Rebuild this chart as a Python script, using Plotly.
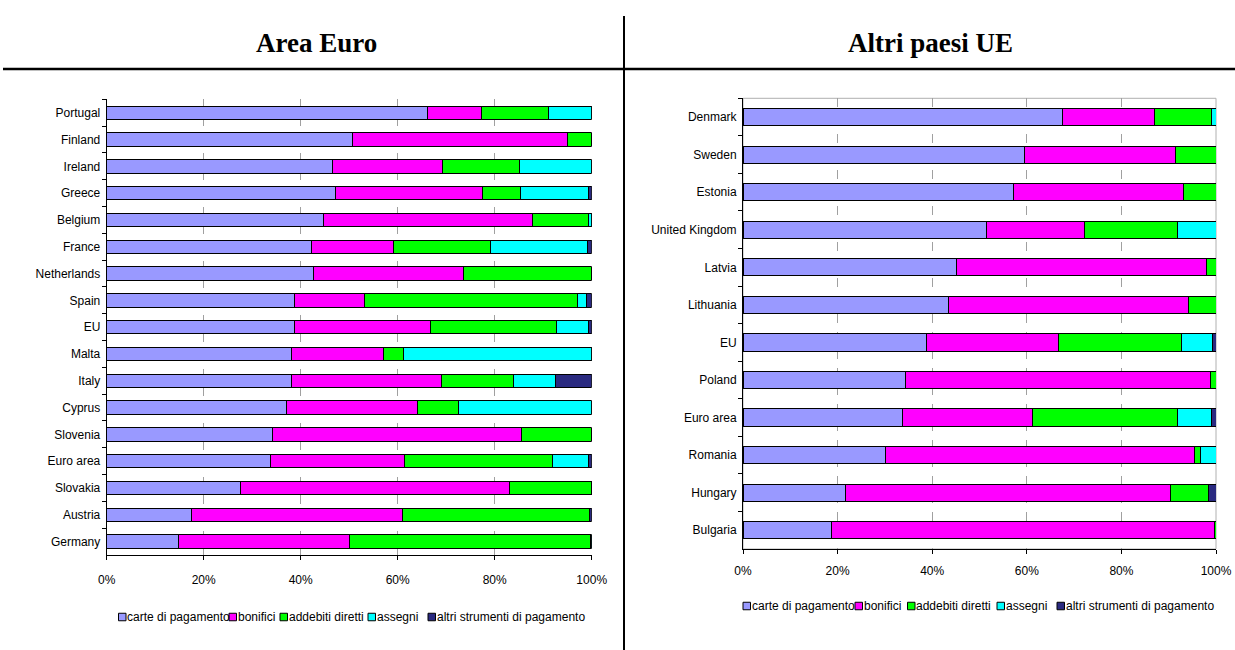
import plotly.graph_objects as go

W, H = 1235, 650

series_names = ["carte di pagamento", "bonifici", "addebiti diretti", "assegni", "altri strumenti di pagamento"]
series_colors = ["#9999FF", "#FF00FF", "#00FF00", "#00FFFF", "#2A2A80"]

# ---- Area Euro (left) ----
left_countries = ["Portugal", "Finland", "Ireland", "Greece", "Belgium", "France", "Netherlands", "Spain", "EU",
                  "Malta", "Italy", "Cyprus", "Slovenia", "Euro area", "Slovakia", "Austria", "Germany"]
left_carte = [66.1, 50.6, 46.6, 47.1, 44.8, 42.2, 42.6, 38.7, 38.8, 38.2, 38.0, 37.0, 34.2, 33.7, 27.5, 17.5, 14.9]
left_bonifici = [11.1, 44.5, 22.6, 30.4, 43.0, 17.0, 31.0, 14.5, 27.9, 18.8, 31.1, 27.1, 51.3, 27.7, 55.5, 43.5, 35.2]
left_addebiti = [13.8, 4.9, 16.0, 7.9, 11.6, 19.9, 26.4, 43.9, 26.0, 4.1, 14.8, 8.4, 14.5, 30.6, 17.0, 38.5, 49.6]
left_assegni = [9.0, 0, 14.8, 14.0, 0.6, 20.1, 0, 1.9, 6.6, 38.9, 8.7, 27.5, 0, 7.3, 0, 0, 0.3]
left_altri = [0, 0, 0, 0.6, 0, 0.8, 0, 1.0, 0.7, 0, 7.4, 0, 0, 0.7, 0, 0.5, 0]

# ---- Altri paesi UE (right) ----
right_countries = ["Denmark", "Sweden", "Estonia", "United Kingdom", "Latvia", "Lithuania", "EU", "Poland",
                   "Euro area", "Romania", "Hungary", "Bulgaria"]
right_carte = [67.5, 59.6, 57.2, 51.5, 45.2, 43.5, 38.8, 34.4, 33.8, 30.1, 21.7, 18.8]
right_bonifici = [19.6, 31.8, 35.9, 20.6, 52.7, 50.6, 27.9, 64.4, 27.4, 65.4, 68.6, 80.8]
right_addebiti = [12.0, 8.6, 6.9, 19.7, 2.1, 5.9, 25.9, 1.2, 30.7, 1.2, 8.2, 0.4]
right_assegni = [0.9, 0, 0, 8.2, 0, 0, 6.7, 0, 7.2, 3.3, 0, 0]
right_altri = [0, 0, 0, 0, 0, 0, 0.7, 0, 0.9, 0, 1.5, 0]

x_tickvals = [0, 20, 40, 60, 80, 100]
x_ticktext = ["0%", "20%", "40%", "60%", "80%", "100%"]

panel_titles = ["Area Euro", "Altri paesi UE"]

left_values = [left_carte, left_bonifici, left_addebiti, left_assegni, left_altri]
right_values = [right_carte, right_bonifici, right_addebiti, right_assegni, right_altri]

LABEL_FONT = dict(family="Liberation Sans, Arial, sans-serif", size=12, color="#000000")
TITLE_FONT = dict(family="Liberation Serif, Times New Roman, serif", size=27, color="#000000")


def px(x):
    return x / W


def py(y):
    return 1 - y / H


fig = go.Figure()
for name, color, lv, rv in zip(series_names, series_colors, left_values, right_values):
    fig.add_trace(go.Bar(y=left_countries, x=lv, orientation="h", name=name,
                         marker=dict(color=color, line=dict(color="#000000", width=1)),
                         width=0.5, xaxis="x", yaxis="y", showlegend=False))
    fig.add_trace(go.Bar(y=right_countries, x=rv, orientation="h", name=name,
                         marker=dict(color=color, line=dict(color="#000000", width=1)),
                         width=0.46, xaxis="x2", yaxis="y2", showlegend=False))

xcommon = dict(range=[0, 100], tickvals=x_tickvals, ticktext=x_ticktext, showgrid=True, griddash="dash",
               gridcolor="#a0a0a0", gridwidth=1, showline=True, linecolor="#000000", linewidth=1,
               ticks="outside", ticklen=4, tickcolor="#000000", zeroline=False, tickfont=LABEL_FONT,
               fixedrange=True, automargin=False)
ycommon = dict(autorange="reversed", showline=True, linecolor="#000000", linewidth=1, ticks="outside",
               tickson="boundaries", ticklen=4, tickcolor="#000000", showgrid=False, tickfont=LABEL_FONT,
               fixedrange=True, automargin=False, ticklabelstandoff=3)

fig.update_layout(
    width=W, height=H, margin=dict(l=0, r=0, t=0, b=0, autoexpand=False),
    paper_bgcolor="#ffffff", plot_bgcolor="#ffffff",
    barmode="stack", showlegend=False,
    xaxis=dict(domain=[px(106.7), px(591.7)], anchor="y", ticklabelstandoff=10, **xcommon),
    yaxis=dict(domain=[py(555), py(99.3)], anchor="x", **ycommon),
    xaxis2=dict(domain=[px(743), px(1216)], anchor="y2", ticklabelstandoff=7, **xcommon),
    yaxis2=dict(domain=[py(549), py(98.3)], anchor="x2", **ycommon),
)

shapes = [
    # right plot border
    dict(type="rect", xref="x2 domain", yref="y2 domain", x0=0, x1=1, y0=0, y1=1,
         line=dict(color="#b0b0b0", width=1), layer="below"),
    # header separators
    dict(type="line", xref="paper", yref="paper", x0=px(3), x1=1, y0=py(69), y1=py(69),
         line=dict(color="#000000", width=2.5)),
    dict(type="line", xref="paper", yref="paper", x0=px(624), x1=px(624), y0=py(16), y1=0,
         line=dict(color="#000000", width=2)),
]

annotations = [
    dict(text="<b>%s</b>" % panel_titles[0], x=px(316), y=py(43), xref="paper", yref="paper",
         showarrow=False, font=TITLE_FONT, xanchor="center", yanchor="middle"),
    dict(text="<b>%s</b>" % panel_titles[1], x=px(930), y=py(43), xref="paper", yref="paper",
         showarrow=False, font=TITLE_FONT, xanchor="center", yanchor="middle"),
]

# custom legends (square + label)
legend_rows = [
    (617, [118.5, 229, 280, 368, 428]),
    (606, [743, 855, 907.5, 997, 1057]),
]
SQ = 7.5
for ly, xs in legend_rows:
    for name, color, sx in zip(series_names, series_colors, xs):
        shapes.append(dict(type="rect", xref="paper", yref="paper",
                           x0=px(sx), x1=px(sx + SQ), y0=py(ly + SQ / 2), y1=py(ly - SQ / 2),
                           fillcolor=color, line=dict(color="#000000", width=1)))
        annotations.append(dict(text=name, x=px(sx + SQ - 1), y=py(ly), xref="paper", yref="paper",
                                showarrow=False, font=LABEL_FONT, xanchor="left", yanchor="middle"))

fig.update_layout(shapes=shapes, annotations=annotations)
fig.write_html("out.html")
